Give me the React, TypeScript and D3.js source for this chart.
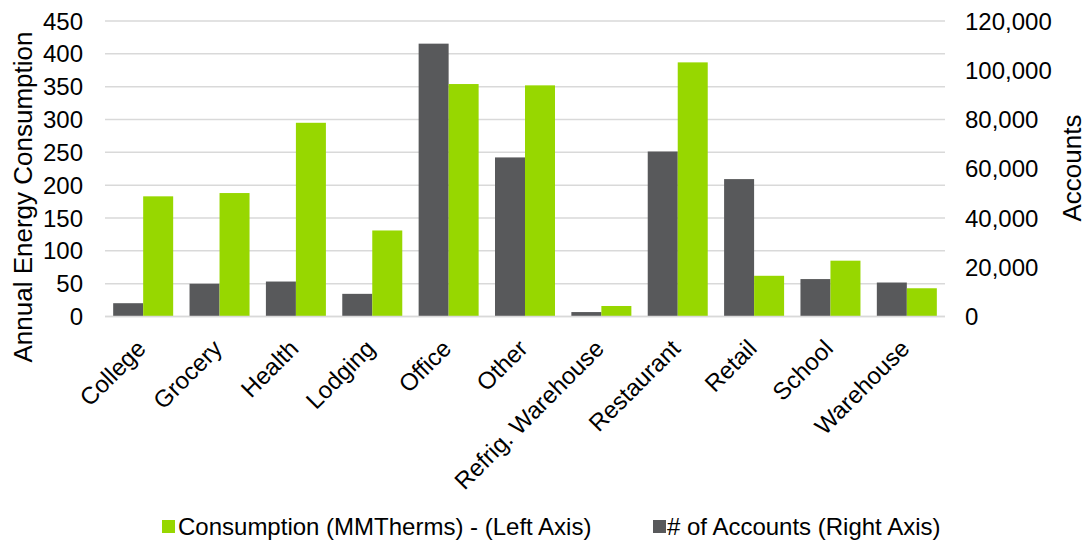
import React from "react";
import * as d3 from "d3";

const categories = [
  "College", "Grocery", "Health", "Lodging", "Office", "Other",
  "Refrig. Warehouse", "Restaurant", "Retail", "School", "Warehouse",
];
// Consumption (MMTherms), left axis
const consumption = [183, 188, 295, 131, 354, 352, 16, 387, 62, 85, 43];
// Number of accounts, right axis
const accounts = [5400, 13300, 14200, 9200, 110800, 64600, 1800, 67000, 55800, 15200, 13800];

const leftTicks = [0, 50, 100, 150, 200, 250, 300, 350, 400, 450];
const rightTicks = [0, 20000, 40000, 60000, 80000, 100000, 120000];

const GREEN = "#97d700";
const DARK = "#58595b";
const GRID = "#d9d9d9";
const FONT = "'Liberation Sans', Arial, sans-serif";

export default function App() {
  const W = 1086, H = 545;
  const left = 105, right = 945, top = 21, bottom = 316.5;

  const x = d3.scaleBand<string>().domain(categories).range([left, right])
    .paddingInner(0.2143).paddingOuter(0.107);
  const sub = d3.scaleBand<string>().domain(["acc", "cons"]).range([0, x.bandwidth()]);
  const yL = d3.scaleLinear().domain([0, 450]).range([bottom, top]);
  const yR = d3.scaleLinear().domain([0, 120000]).range([bottom, top]);
  const fmt = d3.format(",");

  return (
    <svg width={W} height={H} style={{ position: "absolute", left: 0, top: 0, fontFamily: FONT }}>
      <rect width={W} height={H} fill="#fff" />
      {leftTicks.map((t) => (
        <line key={"g" + t} x1={left} x2={right} y1={yL(t)} y2={yL(t)} stroke={GRID} strokeWidth={1.5} />
      ))}
      {categories.map((c, i) => {
        const x0 = x(c)!;
        return (
          <g key={c}>
            <rect x={x0 + sub("acc")!} y={yR(accounts[i])} width={sub.bandwidth()}
              height={bottom - yR(accounts[i])} fill={DARK} />
            <rect x={x0 + sub("cons")!} y={yL(consumption[i])} width={sub.bandwidth()}
              height={bottom - yL(consumption[i])} fill={GREEN} />
          </g>
        );
      })}
      <line x1={left} x2={right} y1={bottom} y2={bottom} stroke={GRID} strokeWidth={1.5} />
      {leftTicks.map((t) => (
        <text key={"l" + t} x={83} y={yL(t)} dy="0.36em" textAnchor="end" fontSize={24} fill="#000">{t}</text>
      ))}
      {rightTicks.map((t) => (
        <text key={"r" + t} x={965} y={yR(t)} dy="0.36em" textAnchor="start" fontSize={24} fill="#000">{fmt(t)}</text>
      ))}
      {categories.map((c) => {
        const cx = x(c)! + x.bandwidth() / 2;
        return (
          <text key={"c" + c} transform={`translate(${cx - 8},${338}) rotate(-45)`} textAnchor="end"
            dy="0.71em" fontSize={24} fill="#000">{c}</text>
        );
      })}
      <text transform={`translate(32,197) rotate(-90)`} textAnchor="middle" fontSize={26} fill="#000">
        Annual Energy Consumption
      </text>
      <text transform={`translate(1081,168) rotate(-90)`} textAnchor="middle" fontSize={26} fill="#000">
        Accounts
      </text>
      <rect x={162} y={520} width={13} height={13} fill={GREEN} />
      <text x={178} y={535} fontSize={24} fill="#000">Consumption (MMTherms) - (Left Axis)</text>
      <rect x={653} y={520} width={13} height={13} fill={DARK} />
      <text x={667} y={535} fontSize={24} fill="#000"># of Accounts (Right Axis)</text>
    </svg>
  );
}
